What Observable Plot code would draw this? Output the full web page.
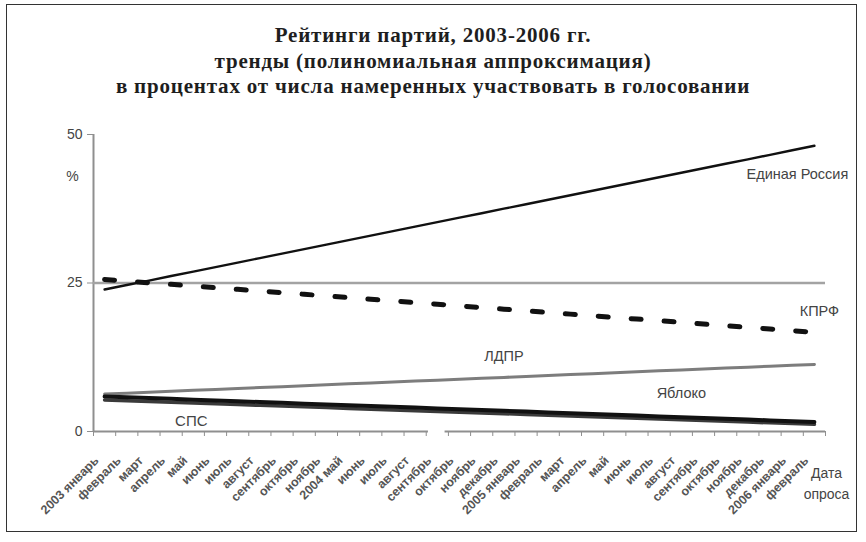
<!DOCTYPE html>
<html>
<head>
<meta charset="utf-8">
<script src="https://cdn.jsdelivr.net/npm/d3@7"></script>
<script src="https://cdn.jsdelivr.net/npm/@observablehq/plot@0.6"></script>
<style>
  html, body { margin: 0; padding: 0; background: #fff; }
  #wrap { position: relative; width: 866px; height: 542px; overflow: hidden; }
  #frame { position: absolute; left: 6px; top: 4px; width: 851px; height: 528px; border: 1px solid #333; box-sizing: border-box; pointer-events: none; }
  #title { height: 110px; box-sizing: border-box; padding-top: 23px; text-align: center;
    font-family: "Liberation Serif", "Times New Roman", serif; font-weight: bold; font-size: 21px; letter-spacing: 0.8px; line-height: 25.5px; color: #1e1e1e; }
  #chart svg { display: block; }
</style>
</head>
<body>
<div id="wrap">
  <div id="title">Рейтинги партий, 2003-2006 гг.<br>тренды (полиномиальная аппроксимация)<br>в процентах от числа намеренных участвовать в голосовании</div>
  <div id="chart"></div>
  <div id="frame"></div>
</div>
<script>
const months = ["2003 январь","февраль","март","апрель","май","июнь","июль","август","сентябрь","октябрь","ноябрь",
  "2004 май","июнь","июль","август","сентябрь","октябрь","ноябрь","декабрь",
  "2005 январь","февраль","март","апрель","май","июнь","июль","август","сентябрь","октябрь","ноябрь","декабрь",
  "2006 январь","февраль"];

const unitedRussia = [23.90,24.66,25.41,26.17,26.92,27.68,28.44,29.19,29.95,30.70,31.46,32.22,32.97,33.73,34.48,35.24,36.00,36.75,37.51,38.26,39.02,39.78,40.53,41.29,42.04,42.80,43.56,44.31,45.07,45.82,46.58,47.34,48.10];
const kprf = [25.60,25.32,25.04,24.77,24.49,24.21,23.93,23.65,23.38,23.10,22.82,22.54,22.26,21.99,21.71,21.43,21.15,20.87,20.59,20.32,20.04,19.76,19.48,19.20,18.93,18.65,18.37,18.09,17.81,17.54,17.26,16.98,16.70];
const ldpr = [6.30,6.46,6.61,6.77,6.93,7.08,7.24,7.39,7.55,7.71,7.86,8.02,8.18,8.33,8.49,8.64,8.80,8.96,9.11,9.27,9.43,9.58,9.74,9.89,10.05,10.21,10.36,10.52,10.68,10.83,10.99,11.14,11.30];
const yabloko = [5.90,5.77,5.63,5.50,5.36,5.23,5.09,4.96,4.83,4.69,4.56,4.42,4.29,4.15,4.02,3.88,3.75,3.62,3.48,3.35,3.21,3.08,2.94,2.81,2.68,2.54,2.41,2.27,2.14,2.00,1.87,1.73,1.60];
const sps = [5.30,5.17,5.04,4.92,4.79,4.66,4.53,4.40,4.28,4.15,4.02,3.89,3.76,3.63,3.51,3.38,3.25,3.12,2.99,2.87,2.74,2.61,2.48,2.35,2.23,2.10,1.97,1.84,1.71,1.58,1.46,1.33,1.20];
const yTicks = [0, 25, 50];
const refLevel = 25;

const rows = arr => arr.map((v, i) => ({x: i + 0.5, v}));
const ER = rows(unitedRussia), KP = rows(kprf), LD = rows(ldpr), YA = rows(yabloko), SP = rows(sps);
const font = "'Liberation Sans', Arial, sans-serif";

const plot = Plot.plot({
  width: 866,
  height: 421,
  marginLeft: 93,
  marginRight: 41,
  marginTop: 24,
  marginBottom: 100,
  style: {fontFamily: font, color: "#333", background: "#fff"},
  x: {type: "linear", domain: [0, months.length], axis: null},
  y: {domain: [0, 50], axis: null},
  marks: [
    // y axis
    Plot.ruleX([0], {y1: 0, y2: 50, stroke: "#8f8f8f", strokeWidth: 2}),
    Plot.axisY({ticks: yTicks, label: null, tickSize: 6, tickPadding: 5, fontSize: 14, stroke: "#8f8f8f", color: "#444"}),
    Plot.text(["%"], {x: 0, y: 43, dx: -21, fontSize: 14, fill: "#444"}),
    // reference line at 25
    Plot.ruleY([refLevel], {x1: 0, x2: months.length, stroke: "#a3a3a3", strokeWidth: 2.5}),
    // x axis (with a break)
    Plot.ruleY([0], {x1: 0, x2: 15.1, stroke: "#8f8f8f", strokeWidth: 2}),
    Plot.ruleY([0], {x1: 15.85, x2: months.length, stroke: "#8f8f8f", strokeWidth: 2}),
    Plot.axisX({ticks: d3.range(months.length + 1), label: null, tickFormat: () => "", tickSize: 5, stroke: "#8f8f8f"}),
    Plot.axisX({ticks: months.map((_, i) => i + 0.5), label: null, tickFormat: t => months[Math.floor(t)], tickSize: 0,
      tickRotate: -45, tickPadding: 27, dx: -8, fontSize: 12.5, fontWeight: "bold", color: "#555"}),
    Plot.text(["Дата\nопроса"], {x: months.length, y: 0, dx: 1, dy: 50, fontSize: 14, fill: "#444", lineHeight: 1.55}),
    // series
    Plot.line(LD, {x: "x", y: "v", stroke: "#7d7d7d", strokeWidth: 3}),
    Plot.line(SP, {x: "x", y: "v", stroke: "#3a3a3a", strokeWidth: 3.5}),
    Plot.line(YA, {x: "x", y: "v", stroke: "#111", strokeWidth: 4}),
    Plot.line(ER, {x: "x", y: "v", stroke: "#111", strokeWidth: 2.4}),
    Plot.line(KP, {x: "x", y: "v", stroke: "#111", strokeWidth: 5, strokeDasharray: "10,23"}),
    // labels
    Plot.text(ER.slice(-1), {x: "x", y: "v", text: () => "Единая Россия", dx: -17, dy: 29, fontSize: 14.5, fill: "#444"}),
    Plot.text(KP.slice(-1), {x: "x", y: "v", text: () => "КПРФ", dx: 5, dy: -21, fontSize: 14.5, fill: "#444"}),
    Plot.text([LD[18]], {x: "x", y: "v", text: () => "ЛДПР", dy: -21, fontSize: 14.5, fill: "#444"}),
    Plot.text([YA[26]], {x: "x", y: "v", text: () => "Яблоко", dy: -24, fontSize: 14.5, fill: "#444"}),
    Plot.text([SP[4]], {x: "x", y: "v", text: () => "СПС", dx: -2, dy: 18, fontSize: 15, fill: "#444"})
  ]
});
document.getElementById("chart").appendChild(plot);
</script>
</body>
</html>
